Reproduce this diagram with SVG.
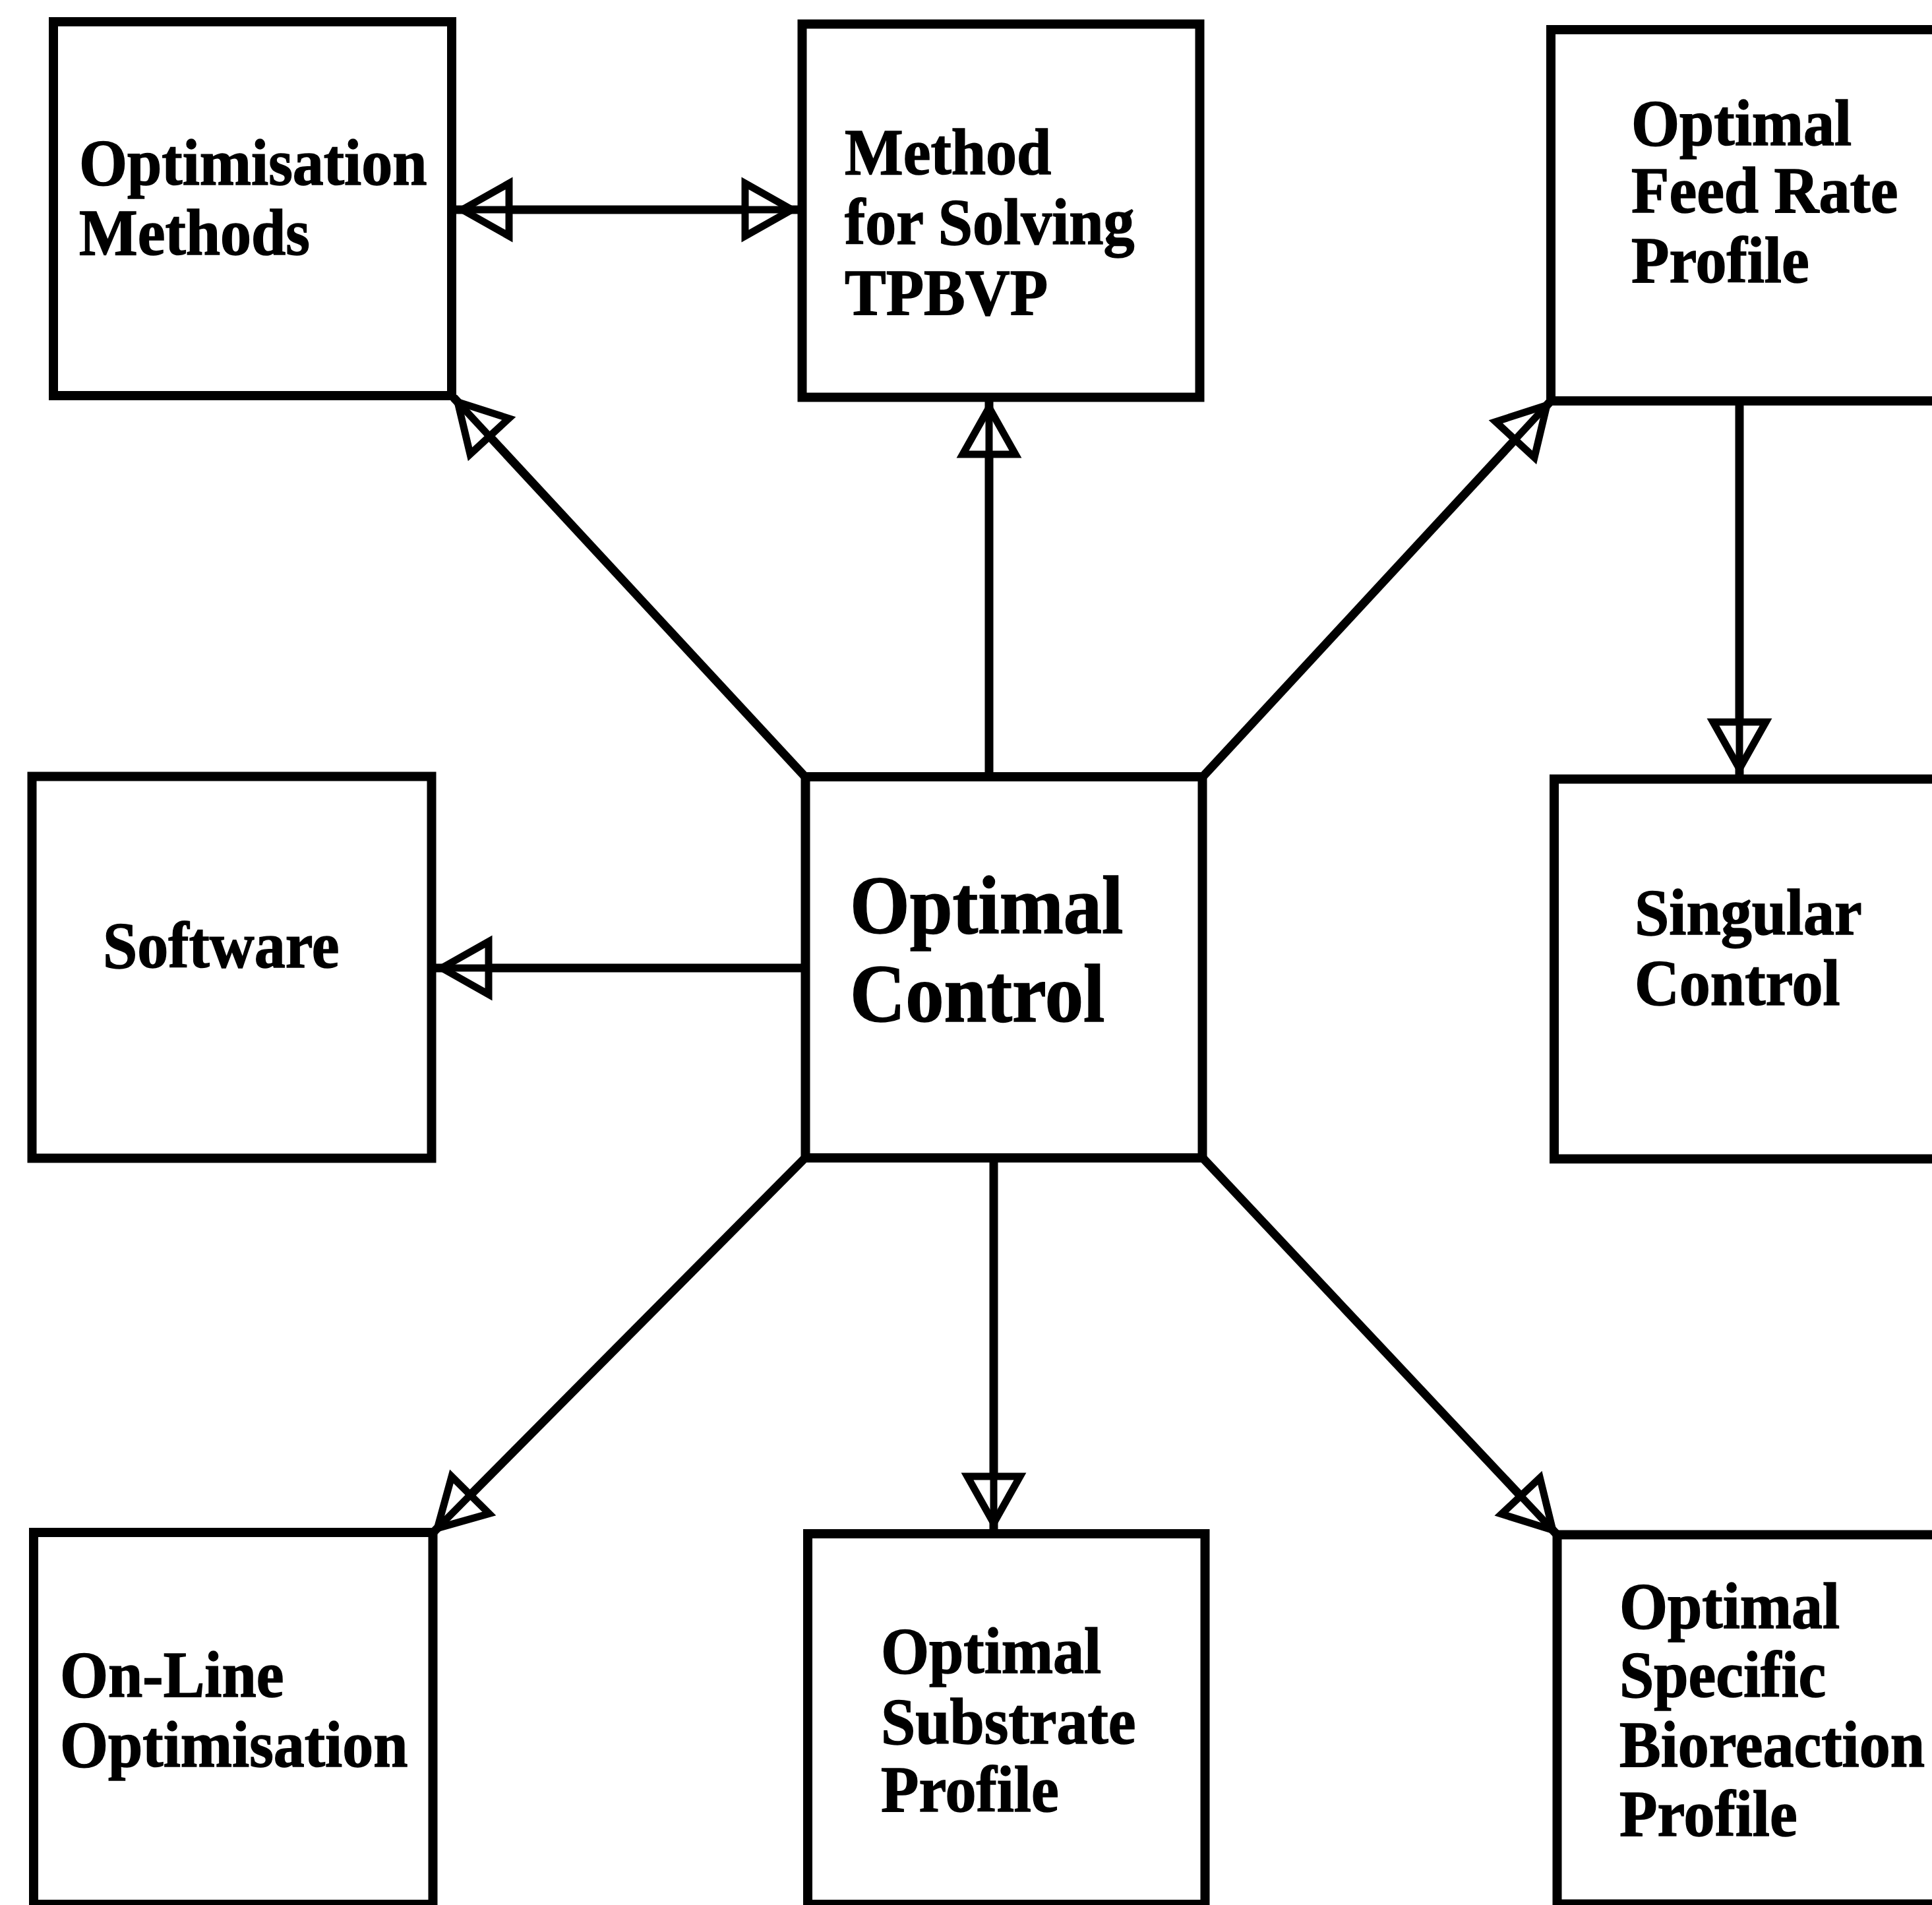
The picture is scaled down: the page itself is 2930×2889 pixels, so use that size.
<svg xmlns="http://www.w3.org/2000/svg" xmlns:xlink="http://www.w3.org/1999/xlink" width="2930" height="2889" viewBox="0 0 2930 2889">
  <style>
    .box { fill: #ffffff; stroke: #000000; stroke-width: 14; }
    .lbl { font-family: "Liberation Serif", "Times New Roman", serif; font-weight: bold; font-size: 100px; fill: #000000; stroke: #000000; stroke-width: 1.5; }
    .big { font-size: 124px; }
    .wire { stroke: #000000; stroke-width: 13; fill: none; }
  </style>
  <defs>
    <!-- open arrowhead, tip at origin pointing along +x, shaft runs through it -->
    <g id="head">
      <polygon points="-9,0 -80,-40 -80,40" fill="#ffffff" stroke="#000000" stroke-width="11" stroke-linejoin="miter"/>
      <line x1="-80" y1="0" x2="-2" y2="0" stroke="#000000" stroke-width="11"/>
    </g>
  </defs>
  <rect width="2930" height="2889" fill="#ffffff"/>

  <g id="connectors">
    <!-- Optimisation Methods <-> Method for Solving TPBVP -->
    <line class="wire" x1="692" y1="318" x2="1210" y2="318"/>
    <use xlink:href="#head" transform="translate(692,318) rotate(180)"/>
    <use xlink:href="#head" transform="translate(1210,318)"/>
    <!-- Optimal Control -> Method for Solving TPBVP -->
    <line class="wire" x1="1500" y1="1172" x2="1500" y2="609"/>
    <use xlink:href="#head" transform="translate(1500,609) rotate(-90)"/>
    <!-- Optimal Control -> Optimisation Methods -->
    <line class="wire" x1="1221" y1="1178" x2="688" y2="603"/>
    <use xlink:href="#head" transform="translate(688,603) rotate(-132.8)"/>
    <!-- Optimal Control -> Optimal Feed Rate Profile -->
    <line class="wire" x1="1824" y1="1178" x2="2352" y2="608"/>
    <use xlink:href="#head" transform="translate(2352,608) rotate(-47.2)"/>
    <!-- Optimal Control -> Software -->
    <line class="wire" x1="1215" y1="1468" x2="661" y2="1468"/>
    <use xlink:href="#head" transform="translate(661,1468) rotate(180)"/>
    <!-- Optimal Feed Rate Profile -> Singular Control -->
    <line class="wire" x1="2638" y1="615" x2="2638" y2="1175"/>
    <use xlink:href="#head" transform="translate(2638,1175) rotate(90)"/>
    <!-- Optimal Control -> Optimal Substrate Profile -->
    <line class="wire" x1="1507" y1="1763" x2="1507" y2="2319"/>
    <use xlink:href="#head" transform="translate(1507,2319) rotate(90)"/>
    <!-- Optimal Control -> On-Line Optimisation -->
    <line class="wire" x1="1221" y1="1756" x2="657" y2="2324"/>
    <use xlink:href="#head" transform="translate(657,2324) rotate(134.8)"/>
    <!-- Optimal Control -> Optimal Specific Bioreaction Profile -->
    <line class="wire" x1="1824" y1="1756" x2="2361" y2="2327"/>
    <use xlink:href="#head" transform="translate(2361,2327) rotate(46.8)"/>
  </g>

  <g id="optimisation-methods">
    <rect class="box" x="81" y="33" width="604" height="567"/>
    <text class="lbl" transform="translate(120,0) scale(0.94,1)">
      <tspan x="0" y="280">Optimisation</tspan>
      <tspan x="0" y="386">Methods</tspan>
    </text>
  </g>

  <g id="method-tpbvp">
    <rect class="box" x="1216.5" y="36.5" width="603" height="566"/>
    <text class="lbl" transform="translate(1281,0) scale(0.94,1)">
      <tspan x="0" y="264">Method</tspan>
      <tspan x="0" y="370">for Solving</tspan>
      <tspan x="0" y="477">TPBVP</tspan>
    </text>
  </g>

  <g id="feed-rate-profile">
    <rect class="box" x="2352" y="45" width="700" height="563"/>
    <text class="lbl" transform="translate(2474,0) scale(0.94,1)">
      <tspan x="0" y="220">Optimal</tspan>
      <tspan x="0" y="322">Feed Rate</tspan>
      <tspan x="0" y="428">Profile</tspan>
    </text>
  </g>

  <g id="software">
    <rect class="box" x="48.5" y="1177.5" width="606" height="579"/>
    <text class="lbl" transform="translate(156,0) scale(0.94,1)">
      <tspan x="0" y="1467">Software</tspan>
    </text>
  </g>

  <g id="optimal-control">
    <rect class="box" x="1221.5" y="1178" width="602" height="578"/>
    <text class="lbl big" transform="translate(1289,0) scale(0.94,1)">
      <tspan x="0" y="1415">Optimal</tspan>
      <tspan x="0" y="1549">Control</tspan>
    </text>
  </g>

  <g id="singular-control">
    <rect class="box" x="2357" y="1181.5" width="700" height="576"/>
    <text class="lbl" transform="translate(2479,0) scale(0.94,1)">
      <tspan x="0" y="1417">Singular</tspan>
      <tspan x="0" y="1524">Control</tspan>
    </text>
  </g>

  <g id="on-line-optimisation">
    <rect class="box" x="51" y="2324" width="605.5" height="564"/>
    <text class="lbl" transform="translate(91,0) scale(0.94,1)">
      <tspan x="0" y="2573">On-Line</tspan>
      <tspan x="0" y="2679">Optimisation</tspan>
    </text>
  </g>

  <g id="substrate-profile">
    <rect class="box" x="1225" y="2326" width="602.5" height="562"/>
    <text class="lbl" transform="translate(1336,0) scale(0.94,1)">
      <tspan x="0" y="2537">Optimal</tspan>
      <tspan x="0" y="2644">Substrate</tspan>
      <tspan x="0" y="2747">Profile</tspan>
    </text>
  </g>

  <g id="bioreaction-profile">
    <rect class="box" x="2361.5" y="2327.5" width="700" height="560"/>
    <text class="lbl" transform="translate(2456,0) scale(0.94,1)">
      <tspan x="0" y="2469">Optimal</tspan>
      <tspan x="0" y="2573">Specific</tspan>
      <tspan x="0" y="2679">Bioreaction</tspan>
      <tspan x="0" y="2784">Profile</tspan>
    </text>
  </g>
</svg>
